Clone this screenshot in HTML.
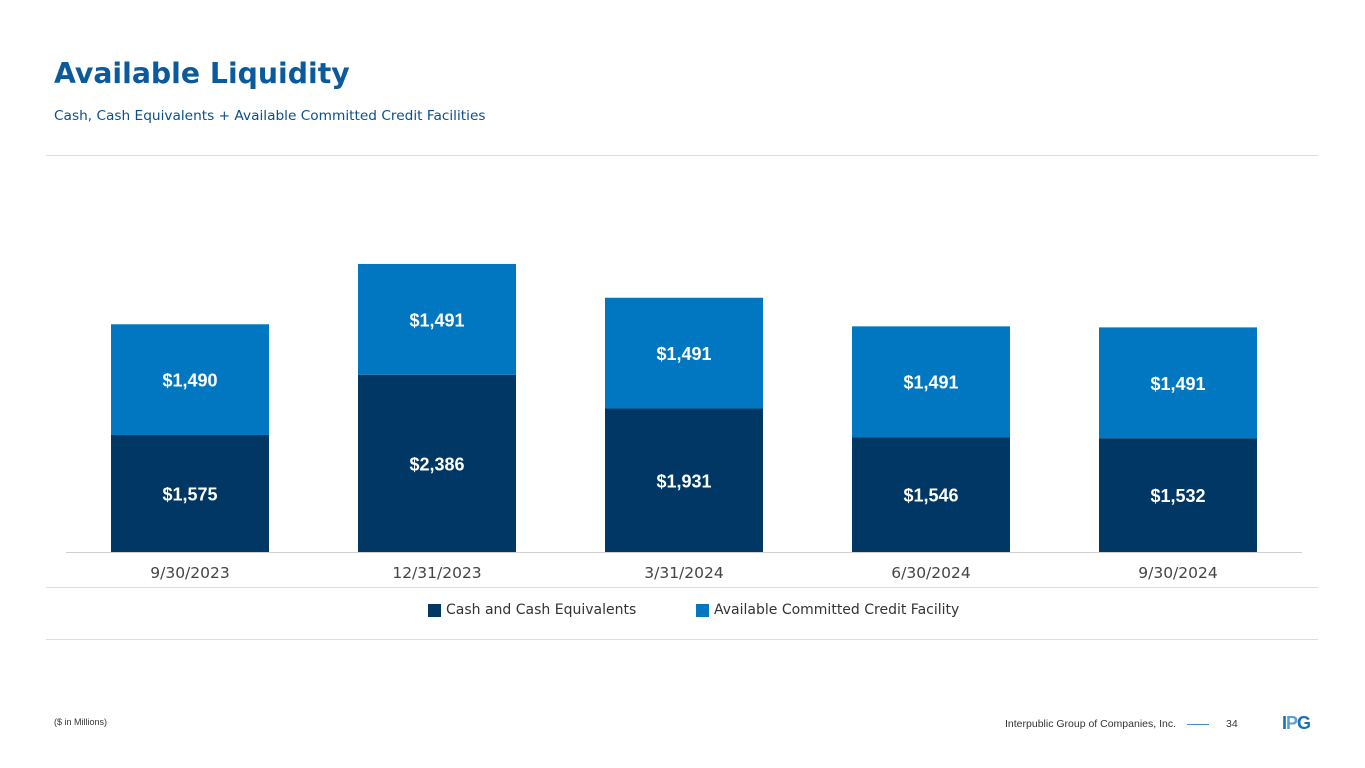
<!DOCTYPE html>
<html><head><meta charset="utf-8"><style>
body{margin:0;width:1365px;height:768px;background:#fff;position:relative;overflow:hidden;font-family:"Liberation Sans",sans-serif}
.abs{position:absolute}
.dj{font-family:"DejaVu Sans",sans-serif}
</style></head><body>
<div class="abs dj" style="left:54px;top:57px;font-size:28.3px;font-weight:bold;color:#0a5a9c;">Available Liquidity</div>
<div class="abs dj" style="left:54px;top:108px;font-size:13.7px;color:#0a4f8a;">Cash, Cash Equivalents + Available Committed Credit Facilities</div>
<div class="abs" style="left:46px;top:155px;width:1272px;height:1px;background:#ddd"></div>
<div class="abs" style="left:46px;top:587px;width:1272px;height:1px;background:#ddd"></div>
<div class="abs" style="left:46px;top:639px;width:1272px;height:1px;background:#ddd"></div>
<svg class="abs" style="left:0;top:0" width="1365" height="768">
<g id="bars"></g>
<line x1="66" x2="1302" y1="552.5" y2="552.5" stroke="#d0d0d0"/>
</svg>
<div class="abs dj" style="left:428px;top:602px;font-size:14px;color:#333;display:flex;align-items:center"><span style="display:inline-block;width:13px;height:13px;background:#003764;margin-right:5px"></span>Cash and Cash Equivalents</div>
<div class="abs dj" style="left:696px;top:602px;font-size:14px;color:#333;display:flex;align-items:center"><span style="display:inline-block;width:13px;height:13px;background:#0077c0;margin-right:5px"></span>Available Committed Credit Facility</div>
<div class="abs" style="left:54px;top:717px;font-size:9px;color:#333">($ in Millions)</div>
<div class="abs" style="left:1005px;top:718px;font-size:10.5px;color:#333">Interpublic Group of Companies, Inc.</div>
<div class="abs" style="left:1187px;top:724px;width:22px;height:1px;background:#4a8cc4"></div>
<div class="abs" style="left:1226px;top:718px;font-size:10.5px;color:#333">34</div>
<div class="abs" style="left:1282px;top:713px;font-size:18px;font-weight:bold;color:#1a6fb5;letter-spacing:-1px">I<span style="color:#5aa0d8">P</span>G</div>
<script>
const categories=["9/30/2023","12/31/2023","3/31/2024","6/30/2024","9/30/2024"];
const cashValues=[1575,2386,1931,1546,1532];
const creditValues=[1490,1491,1491,1491,1491];
const NS="http://www.w3.org/2000/svg";
const g=document.getElementById('bars');
const base=552, k=0.0743, x0=111, step=247, bw=158;
function y(v){return base-v*k;}
function mk(tag,attrs){const e=document.createElementNS(NS,tag);for(const a in attrs)e.setAttribute(a,attrs[a]);g.appendChild(e);return e;}
function label(x,yy,t,size,weight,fill,fam){const e=mk('text',{x:x,y:yy,'text-anchor':'middle','font-size':size,'font-weight':weight,fill:fill,'font-family':fam});e.textContent=t;return e;}
categories.forEach((c,i)=>{
  const x=x0+i*step;
  const c1=cashValues[i], c2=creditValues[i];
  const r1=mk('rect',{x:x,y:y(c1),width:bw,height:c1*k,fill:'#003764'});
  
  
  const r2=mk('rect',{x:x,y:y(c1+c2),width:bw,height:c2*k,fill:'#0077c0'});
  
  
  const l1=label(x+bw/2,(y(c1)+base)/2+7,'$'+c1.toLocaleString('en-US'),18,'bold','#fff','Liberation Sans, sans-serif');
  
  
  const l2=label(x+bw/2,(y(c1+c2)+y(c1))/2+7,'$'+c2.toLocaleString('en-US'),18,'bold','#fff','Liberation Sans, sans-serif');
  
  
  const t=label(x+bw/2,578,c,15.5,'normal','#444','DejaVu Sans, sans-serif');
  
  
});
</script>
</body></html>
